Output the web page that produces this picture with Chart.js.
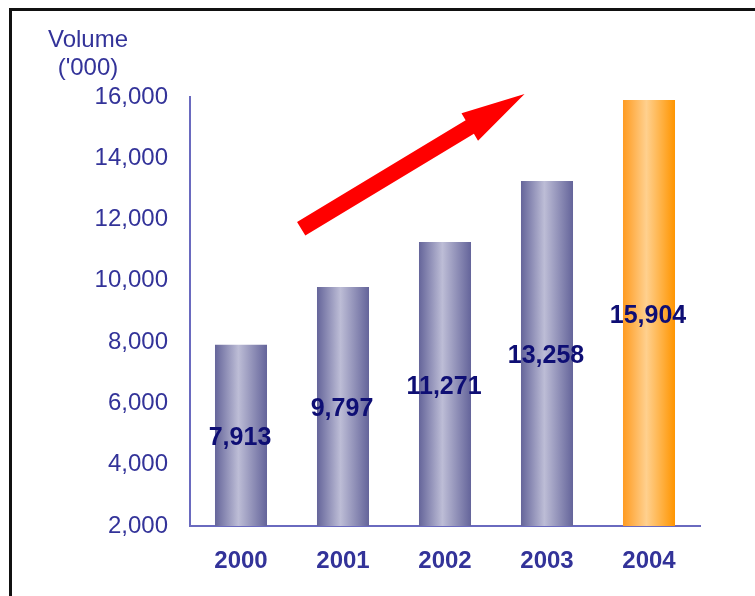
<!DOCTYPE html>
<html>
<head>
<meta charset="utf-8">
<script src="https://cdn.jsdelivr.net/npm/chart.js@4.4.1/dist/chart.umd.min.js"></script>
<style>
  html, body { margin: 0; padding: 0; background: #fff; overflow: hidden; }
  canvas { display: block; }
</style>
</head>
<body>
<canvas id="volumeChart" width="755" height="596"></canvas>
<script>
const years = ['2000', '2001', '2002', '2003', '2004'];
const volumes = [7913, 9797, 11271, 13258, 15904];
const yTicks = [2000, 4000, 6000, 8000, 10000, 12000, 14000, 16000];

const TICK_COLOR = '#333399';
const LABEL_COLOR = '#0e0e74';
const AXIS_COLOR = '#6a6abf';
const FONT = 'Arial, "Liberation Sans", sans-serif';
const BAR_PCT = 0.51;

function barGradient(ctx) {
    const chart = ctx.chart;
    const xs = chart.scales.x;
    if (!chart.chartArea || !xs) return '#9a9abf';
    const cx = xs.getPixelForValue(ctx.dataIndex);
    const half = xs.width / years.length * BAR_PCT / 2;
    const g = chart.ctx.createLinearGradient(cx - half, 0, cx + half, 0);
    if (ctx.dataIndex === years.length - 1) {
        g.addColorStop(0, '#ff9b20');
        g.addColorStop(0.45, '#ffd08e');
        g.addColorStop(1, '#ff9500');
    } else {
        g.addColorStop(0, '#65659a');
        g.addColorStop(0.45, '#bdbdd6');
        g.addColorStop(1, '#64649a');
    }
    return g;
}

// frame, axis title, arrow and value labels
const extras = {
    id: 'extras',
    beforeDraw(chart) {
        const ctx = chart.ctx;
        ctx.save();
        ctx.fillStyle = '#111';
        ctx.fillRect(9, 8, 3, 600);
        ctx.fillRect(9, 8, 760, 3);
        ctx.fillStyle = TICK_COLOR;
        ctx.font = '24px ' + FONT;
        ctx.textAlign = 'center';
        ctx.textBaseline = 'middle';
        ctx.fillText('Volume', 88, 40);
        ctx.fillText("('000)", 88, 68);
        ctx.restore();
    },
    afterDatasetsDraw(chart) {
        const ctx = chart.ctx;
        const xs = chart.scales.x, ys = chart.scales.y;

        // trend arrow
        const p0 = [xs.getPixelForValue(0.59), ys.getPixelForValue(11700)];
        const p1 = [xs.getPixelForValue(2.78), ys.getPixelForValue(16100)];
        const len = Math.hypot(p1[0] - p0[0], p1[1] - p0[1]);
        const ang = Math.atan2(p1[1] - p0[1], p1[0] - p0[0]);
        const sw = 8, hw = 16, hl = 64;
        ctx.save();
        ctx.translate(p0[0], p0[1]);
        ctx.rotate(ang);
        ctx.fillStyle = '#ff0000';
        ctx.beginPath();
        ctx.moveTo(0, -sw);
        ctx.lineTo(len - hl, -sw);
        ctx.lineTo(len - hl, -hw);
        ctx.lineTo(len, 0);
        ctx.lineTo(len - hl, hw);
        ctx.lineTo(len - hl, sw);
        ctx.lineTo(0, sw);
        ctx.closePath();
        ctx.fill();
        ctx.restore();

        // value labels in the middle of each bar
        const meta = chart.getDatasetMeta(0);
        const base = ys.getPixelForValue(ys.min);
        ctx.save();
        ctx.fillStyle = LABEL_COLOR;
        ctx.font = 'bold 25px ' + FONT;
        ctx.textAlign = 'center';
        ctx.textBaseline = 'middle';
        meta.data.forEach((bar, i) => {
            const y = (bar.y + base) / 2 + 3;
            ctx.fillText(volumes[i].toLocaleString('en-US'), bar.x - 1, y);
        });
        ctx.restore();
    }
};

new Chart(document.getElementById('volumeChart'), {
    type: 'bar',
    data: {
        labels: years,
        datasets: [{
            data: volumes,
            backgroundColor: barGradient,
            borderWidth: 0,
            barPercentage: BAR_PCT,
            categoryPercentage: 1
        }]
    },
    options: {
        responsive: false,
        animation: false,
        layout: { padding: { top: 97, right: 55, left: 0, bottom: 0 } },
        plugins: {
            legend: { display: false },
            tooltip: { enabled: false }
        },
        scales: {
            x: {
                grid: { display: false, drawTicks: false },
                border: { display: true, color: AXIS_COLOR, width: 2 },
                ticks: {
                    color: TICK_COLOR,
                    font: { family: FONT, size: 24, weight: 'bold' },
                    padding: 21
                },
                afterFit(scale) { scale.height = 70; }
            },
            y: {
                min: yTicks[0],
                max: yTicks[yTicks.length - 1],
                grid: { display: false, drawTicks: false },
                border: { display: true, color: AXIS_COLOR, width: 2 },
                afterBuildTicks(scale) {
                    scale.ticks = yTicks.map(v => ({ value: v }));
                },
                ticks: {
                    color: TICK_COLOR,
                    font: { family: FONT, size: 24 },
                    padding: 22,
                    callback: v => v.toLocaleString('en-US')
                },
                afterFit(scale) { scale.width = 190; }
            }
        }
    },
    plugins: [extras]
});
</script>
</body>
</html>
